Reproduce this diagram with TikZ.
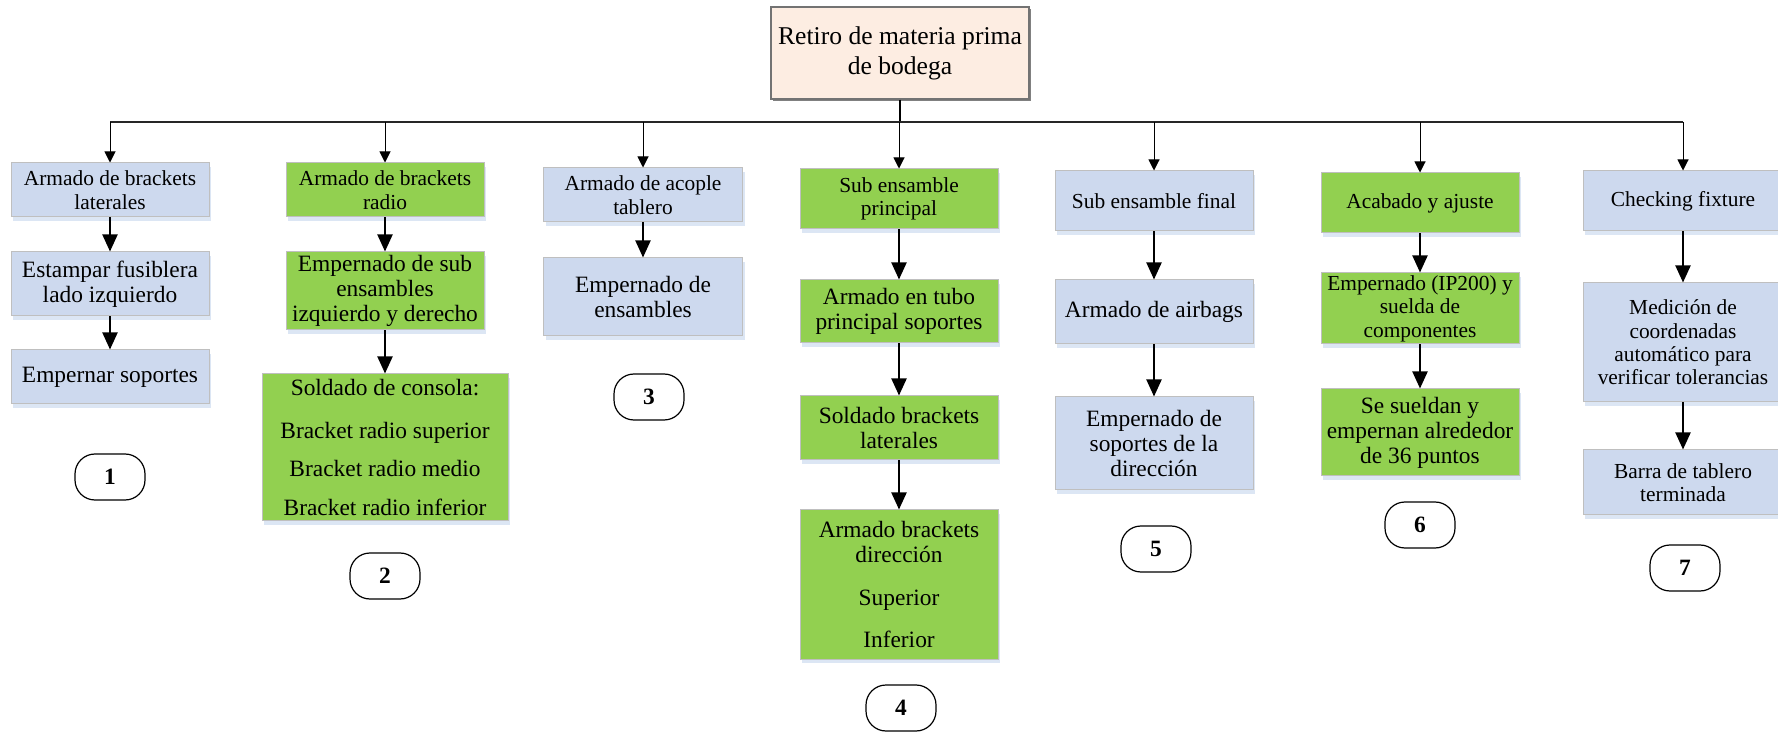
\documentclass[tikz,border=0pt]{standalone}
\usepackage{fontspec}
\setmainfont{Liberation Serif}
\usepackage{tikz}
\usetikzlibrary{arrows.meta,positioning,shadows}
\definecolor{boxblue}{HTML}{CDD9EE}
\definecolor{boxgreen}{HTML}{92D050}
\definecolor{boxpeach}{HTML}{FDEDE2}
\definecolor{shadeblue}{HTML}{DCE6F4}

\begin{document}
\begin{tikzpicture}[
  x=0.5pt, y=-0.5pt,
  box/.style={rectangle, draw=black!25, line width=0.5pt, minimum width=99pt, inner xsep=2pt, inner ysep=1pt, align=center,
    drop shadow={shadow xshift=1pt, shadow yshift=-2pt, fill=shadeblue, opacity=1}},
  tsmall/.style={font=\fontsize{10.7}{11.7}\selectfont},
  tbig/.style={font=\fontsize{11.7}{12.5}\selectfont},
  num/.style={rectangle, rounded corners=10pt, draw, line width=0.6pt, minimum width=35pt, minimum height=23pt, font=\fontsize{11.7}{12.5}\selectfont\bfseries},
  arr/.style={-{Triangle[length=8.5pt, width=7.5pt]}, line width=1pt},
  branch/.style={-{Triangle[length=5.5pt, width=5.5pt]}, line width=0.5pt}]
\useasboundingbox (0,0) rectangle (1778,732);
\clip (0,0) rectangle (1778,732);
\node[rectangle, draw=black!55, line width=0.6pt, fill=boxpeach, minimum width=129pt, minimum height=46pt, align=center, font=\fontsize{12.8}{15}\selectfont,
  drop shadow={shadow xshift=1pt, shadow yshift=-1pt, fill=black!50, opacity=1}] (top) at (900,53) {Retiro de materia prima\\de bodega};
% 1
\node[box, tsmall, fill=boxblue, minimum height=27pt] (a1) at (110,190) {Armado de brackets\\laterales};
\node[box, tbig, fill=boxblue, minimum height=32pt, below=17pt of a1] (a2) {Estampar fusiblera\\lado izquierdo};
\node[box, tbig, fill=boxblue, minimum height=27pt, below=16.5pt of a2] (a3) {Empernar soportes};
\node[num] (n1) at (110,477) {1};
% 2
\node[box, tsmall, fill=boxgreen, minimum height=27pt] (b1) at (385,190) {Armado de brackets\\radio};
\node[box, tbig, fill=boxgreen, minimum height=39pt, below=17pt of b1] (b2) {Empernado de sub\\ensambles\\izquierdo y derecho};
\node[box, tbig, fill=boxgreen, minimum width=123pt, minimum height=73.5pt, below=21.5pt of b2] (b3) {Soldado de consola:\\[9pt]Bracket radio superior\\[6.5pt]Bracket radio medio\\[7pt]Bracket radio inferior};
\node[num] (n2) at (385,576) {2};
% 3
\node[box, tsmall, fill=boxblue, minimum width=99.5pt, minimum height=27pt] (c1) at (643,195) {Armado de acople\\tablero};
\node[box, tbig, fill=boxblue, minimum width=99.5pt, minimum height=39pt, below=17.5pt of c1] (c2) {Empernado de\\ensambles};
\node[num] (n3) at (649,397) {3};
% 4
\node[box, tsmall, fill=boxgreen, minimum height=30pt] (d1) at (899,199) {Sub ensamble\\principal};
\node[box, tbig, fill=boxgreen, minimum height=31.5pt, below=25pt of d1] (d2) {Armado en tubo\\principal soportes};
\node[box, tbig, fill=boxgreen, minimum height=32pt, below=26pt of d2] (d3) {Soldado brackets\\laterales};
\node[box, tbig, fill=boxgreen, minimum height=74.5pt, below=24.5pt of d3] (d4) {Armado brackets\\dirección\\[9pt]Superior\\[8.5pt]Inferior};
\node[num] (n4) at (901,708) {4};
% 5
\node[box, tsmall, fill=boxblue, minimum height=30pt] (e1) at (1154,201) {Sub ensamble final};
\node[box, tbig, fill=boxblue, minimum height=32pt, below=24pt of e1] (e2) {Armado de airbags};
\node[box, tbig, fill=boxblue, minimum height=46.5pt, below=26pt of e2] (e3) {Empernado de\\soportes de la\\dirección};
\node[num] (n5) at (1156,549) {5};
% 6
\node[box, tsmall, fill=boxgreen, minimum height=30pt] (f1) at (1420,203) {Acabado y ajuste};
\node[box, tsmall, fill=boxgreen, minimum height=35.5pt, below=19.5pt of f1] (f2) {Empernado (IP200) y\\suelda de\\componentes};
\node[box, tbig, fill=boxgreen, minimum height=43.5pt, below=22pt of f2] (f3) {Se sueldan y\\empernan alrededor\\de 36 puntos};
\node[num] (n6) at (1420,525) {6};
% 7
\node[box, tsmall, fill=boxblue, minimum width=100pt, minimum height=30pt] (g1) at (1683,201) {Checking fixture};
\node[box, tsmall, fill=boxblue, minimum width=100pt, minimum height=59.5pt, below=25.5pt of g1] (g2) {Medición de\\coordenadas\\automático para\\verificar tolerancias};
\node[box, tsmall, fill=boxblue, minimum width=100pt, minimum height=32.5pt, below=23.5pt of g2] (g3) {Barra de tablero\\terminada};
\node[num] (n7) at (1685,568) {7};
% connectors
\coordinate (bus) at (900,122);
\draw[line width=1pt] (top) -- (bus);
\draw[line width=0.8pt, black!85] (a1.north |- bus) -- (g1.north |- bus);
\foreach \c in {a1,b1,c1,d1,e1,f1,g1} \draw[branch] (\c.north |- bus) -- (\c.north);
\foreach \i/\j in {a1/a2,a2/a3,b1/b2,b2/b3,c1/c2,d1/d2,d2/d3,d3/d4,e1/e2,e2/e3,f1/f2,f2/f3,g1/g2,g2/g3} \draw[arr] (\i) -- (\j);
\end{tikzpicture}
\end{document}
